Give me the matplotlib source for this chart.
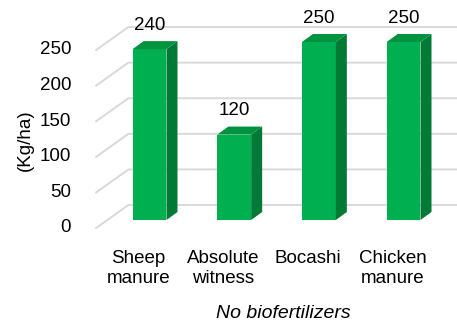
import matplotlib.pyplot as plt
from matplotlib.patches import Polygon

plt.rcParams['font.family'] = ['Liberation Sans', 'DejaVu Sans']

# data
categories = ['Sheep\nmanure', 'Absolute\nwitness', 'Bocashi', 'Chicken\nmanure']
values = [240, 120, 250, 250]
yticks = [0, 50, 100, 150, 200, 250]

# colours (excel green, shaded sides)
front_col = '#00B050'
side_col = '#007A35'
top_col = '#00933F'
grid_col = '#D9D9D9'

# fake 3d: offsets in data units
bar_w = 0.40
dep_x, dep_y = 0.13, 11.2         # depth of one bar
front_x, front_y = -0.13, -11.2   # front plane, where the labels sit
back_x, back_y = 0.25, 21.0       # back wall

fig = plt.figure(figsize=(4.57, 3.24), dpi=100)
ax = fig.add_axes([0.2346, 0.321, 0.7411, 0.5494])
ax.set_xlim(-0.5, 3.5)
ax.set_ylim(0, 250)
ax.axis('off')

# back wall grid + diagonal on the side wall
for v in yticks:
    xs = [-0.5 + front_x, -0.5 + back_x, 3.5 + back_x + 0.3]
    ys = [v + front_y, v + back_y, v + back_y]
    ax.plot(xs, ys, color=grid_col, lw=1.4, clip_on=False, zorder=1)
    ax.annotate(str(v), (-0.5 + front_x, v + front_y), xytext=(-18, 0),
                textcoords='offset points', ha='right', va='center',
                fontsize=13.5, color='#000000', annotation_clip=False)

# bars: front face + side + top
x = list(range(len(values)))
ax.bar(x, values, width=bar_w, color=front_col, zorder=3, clip_on=False)
for i, v in zip(x, values):
    r = i + bar_w / 2
    l = i - bar_w / 2
    side = [(r, 0), (r + dep_x, dep_y), (r + dep_x, v + dep_y), (r, v)]
    top = [(l, v), (r, v), (r + dep_x, v + dep_y), (l + dep_x, v + dep_y)]
    ax.add_patch(Polygon(side, closed=True, facecolor=side_col, edgecolor='none',
                         zorder=3, clip_on=False))
    ax.add_patch(Polygon(top, closed=True, facecolor=top_col, edgecolor='none',
                         zorder=3, clip_on=False))
    ax.annotate(str(v), (i, v), xytext=(0, 17), textcoords='offset points',
                ha='center', va='center', fontsize=13.5, annotation_clip=False)

# category labels on the front plane
for i, c in zip(x, categories):
    ax.annotate(c, (i + front_x, front_y), xytext=(0, -16), textcoords='offset points',
                ha='center', va='top', multialignment='center', fontsize=13.5,
                annotation_clip=False)

fig.text(25 / 457, 1 - 140 / 324, '(Kg/ha)', rotation=90, ha='center', va='center',
         fontsize=13.5)
fig.text(283 / 457, 1 - 313 / 324, 'No biofertilizers', style='italic',
         ha='center', va='center', fontsize=14)

fig.savefig('out.png', dpi=100)
